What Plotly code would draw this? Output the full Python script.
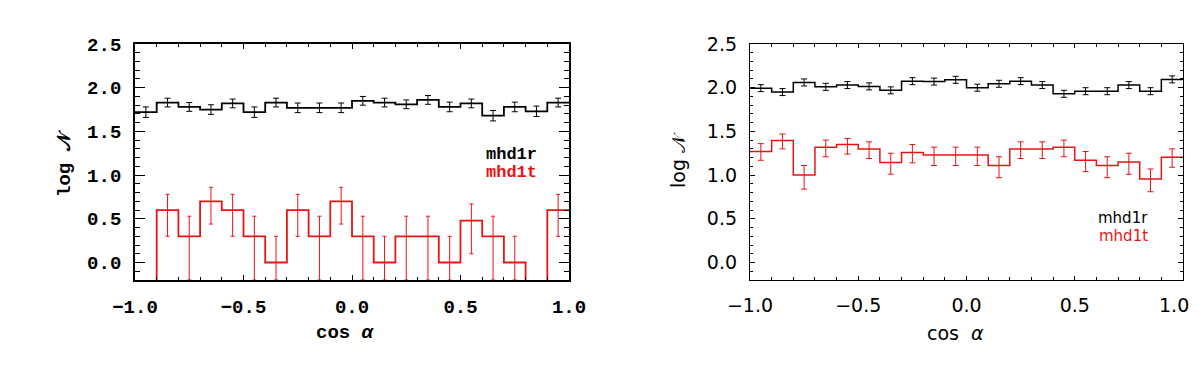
import plotly.graph_objects as go

# bin edges of cos(alpha): 20 bins of 0.1 from -1 to 1
edges = [round(-1.0 + 0.1 * i, 2) for i in range(21)]
centers = [round(-0.95 + 0.1 * i, 2) for i in range(20)]
xticks = [-1.0, -0.5, 0.0, 0.5, 1.0]
xlabels = ["−1.0", "−0.5", "0.0", "0.5", "1.0"]

# left panel, log N per bin (None = empty bin)
left_r = [1.72, 1.83, 1.78, 1.75, 1.82, 1.72, 1.83, 1.77, 1.77, 1.77,
          1.85, 1.83, 1.81, 1.86, 1.78, 1.82, 1.68, 1.78, 1.73, 1.83]
left_r_err = [0.06, 0.05, 0.05, 0.055, 0.05, 0.06, 0.05, 0.055, 0.055, 0.055,
              0.05, 0.05, 0.05, 0.05, 0.055, 0.05, 0.06, 0.055, 0.06, 0.05]
left_t = [None, 0.60, 0.30, 0.70, 0.60, 0.30, 0.00, 0.60, 0.30, 0.70,
          0.30, 0.00, 0.30, 0.30, 0.00, 0.48, 0.30, 0.00, None, 0.60]
left_t_hi = [None, 0.78, 0.53, 0.86, 0.78, 0.53, 0.30, 0.78, 0.53, 0.86,
             0.53, 0.30, 0.53, 0.53, 0.30, 0.67, 0.53, 0.30, None, 0.78]
# None = bar runs off the bottom of the plot
left_t_lo = [None, 0.30, None, 0.44, 0.30, None, None, 0.30, None, 0.44,
             None, None, None, None, None, 0.10, None, None, None, 0.30]

# right panel
right_r = [1.995, 1.95, 2.06, 2.01, 2.03, 2.015, 1.97, 2.075, 2.07, 2.09,
           2.00, 2.045, 2.075, 2.03, 1.93, 1.96, 1.96, 2.03, 1.96, 2.095]
right_r_err = [0.04, 0.04, 0.04, 0.04, 0.04, 0.04, 0.04, 0.04, 0.04, 0.04,
               0.04, 0.04, 0.04, 0.04, 0.04, 0.04, 0.04, 0.04, 0.04, 0.04]
right_t = [1.27, 1.395, 1.00, 1.32, 1.35, 1.30, 1.145, 1.26, 1.23, 1.23,
           1.23, 1.11, 1.30, 1.30, 1.32, 1.17, 1.11, 1.15, 0.955, 1.205]
right_t_hi = [1.36, 1.47, 1.11, 1.40, 1.42, 1.38, 1.25, 1.35, 1.32, 1.32,
              1.32, 1.21, 1.38, 1.38, 1.40, 1.27, 1.21, 1.25, 1.07, 1.30]
right_t_lo = [1.17, 1.30, 0.84, 1.21, 1.24, 1.19, 1.01, 1.14, 1.11, 1.11,
              1.11, 0.97, 1.19, 1.19, 1.21, 1.04, 0.97, 1.01, 0.81, 1.09]

YMIN, YMAX = -0.2, 2.5
RED = "rgb(232,20,20)"

fig = go.Figure()


def step(vals, xa, ya, color, width):
    ys = [v if v is not None else YMIN - 1 for v in vals]
    ys = ys + [ys[-1]]
    fig.add_trace(go.Scatter(x=edges, y=ys, mode="lines", line_shape="hv",
                             line=dict(color=color, width=width),
                             xaxis=xa, yaxis=ya, showlegend=False, hoverinfo="skip"))


def errs(vals, hi, lo, xa, ya, color, cap, thick):
    xs, ys, up, dn = [], [], [], []
    for c, v, h, l in zip(centers, vals, hi, lo):
        if v is None:
            continue
        xs.append(c)
        ys.append(v)
        up.append(h - v)
        dn.append(v - (l if l is not None else YMIN))
    fig.add_trace(go.Scatter(x=xs, y=ys, mode="markers", marker=dict(size=0.1, color=color),
                             error_y=dict(type="data", symmetric=False, array=up, arrayminus=dn,
                                          color=color, thickness=thick, width=cap),
                             xaxis=xa, yaxis=ya, showlegend=False, hoverinfo="skip"))


step(left_r, "x", "y", "black", 1.8)
errs(left_r, [v + e for v, e in zip(left_r, left_r_err)],
     [v - e for v, e in zip(left_r, left_r_err)], "x", "y", "black", 3, 1)
step(left_t, "x", "y", RED, 1.8)
errs(left_t, left_t_hi, left_t_lo, "x", "y", RED, 2, 1)

step(right_r, "x2", "y2", "black", 1.5)
errs(right_r, [v + e for v, e in zip(right_r, right_r_err)],
     [v - e for v, e in zip(right_r, right_r_err)], "x2", "y2", "black", 3, 1)
step(right_t, "x2", "y2", RED, 1.5)
errs(right_t, right_t_hi, right_t_lo, "x2", "y2", RED, 3, 1)

# the page body has an 8px margin, so work in page pixels and shift
OFF = 8
W, H = 1200 - OFF, 367 - OFF


def px(x):
    return (x - OFF) / W


def py(y):
    return 1 - (y - OFF) / H


ydom = [py(280), py(44)]
lfont = dict(family="Liberation Mono", size=19, color="black", weight="bold")
rfont = dict(family="DejaVu Sans", size=19, color="black")


def xaxis(dom, font, lw, tl, labels):
    return dict(domain=dom, range=[-1, 1], tickvals=xticks, ticktext=labels,
                showline=True, linecolor="black", linewidth=lw, mirror="ticks",
                ticks="inside", ticklen=tl, tickcolor="black", tickwidth=1,
                minor=dict(dtick=0.1, tick0=-1, ticks="inside", ticklen=3, tickcolor="black"),
                showgrid=False, zeroline=False, tickfont=font, ticklabelstandoff=8,
                automargin=False)


def yaxis(dom, font, lw, tl, ml, anchor):
    return dict(domain=dom, range=[YMIN, YMAX], tick0=0, dtick=0.5, tickformat=".1f",
                showline=True, linecolor="black", linewidth=lw, mirror="ticks",
                ticks="inside", ticklen=tl, tickcolor="black", tickwidth=1,
                minor=dict(dtick=0.1, tick0=0, ticks="inside", ticklen=ml, tickcolor="black"),
                showgrid=False, zeroline=False, tickfont=font, anchor=anchor,
                ticklabelstandoff=8, automargin=False)


# rightmost label of the right panel is pulled inside the page, as in the original
fig.update_layout(
    width=W, height=H, margin=dict(l=0, r=0, t=0, b=0, autoexpand=False),
    plot_bgcolor="white", paper_bgcolor="white",
    xaxis=xaxis([px(135), px(569)], lfont, 1.8, 5, xlabels),
    yaxis=yaxis(ydom, lfont, 1.8, 10, 5, "x"),
    xaxis2=dict(xaxis([px(750), px(1183)], rfont, 1.3, 4, xlabels[:-1] + [""]), anchor="y2"),
    yaxis2=yaxis(ydom, rfont, 1.3, 5, 3, "x2"),
)

anns = [
    dict(x=px(1174), y=py(305), text=xlabels[-1], font=rfont),
    dict(x=px(345), y=py(333), text="cos <i>α</i>", font=lfont),
    dict(x=px(955), y=py(333), text="cos  <i>α</i>", font=rfont),
    dict(x=px(65), y=py(163), text="log 𝒩", font=lfont, textangle=-90),
    dict(x=px(678), y=py(160), text="log 𝒩", font=rfont, textangle=-90),
    dict(x=px(539), y=py(154), text="mhd1r", font=dict(lfont, size=17), xanchor="right"),
    dict(x=px(539), y=py(173), text="mhd1t", font=dict(lfont, size=17, color=RED), xanchor="right"),
    dict(x=px(1150), y=py(218), text="mhd1r", font=dict(rfont, size=15), xanchor="right"),
    dict(x=px(1150), y=py(236), text="mhd1t", font=dict(rfont, size=15, color=RED), xanchor="right"),
]
for a in anns:
    a.setdefault("xanchor", "center")
    fig.add_annotation(xref="paper", yref="paper", showarrow=False, yanchor="middle", **a)

fig.write_html("out.html")
